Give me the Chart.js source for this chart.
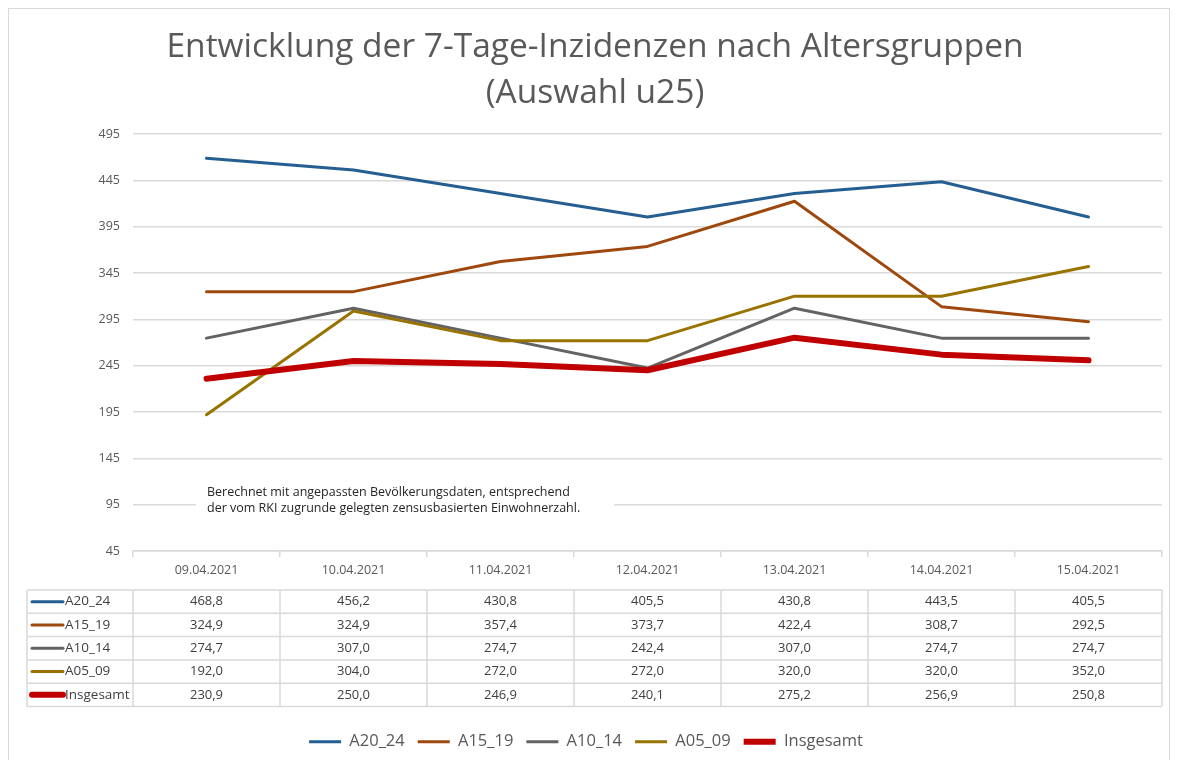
<!DOCTYPE html>
<html>
<head>
<meta charset="utf-8">
<script src="https://cdn.jsdelivr.net/npm/chart.js@4"></script>
<style>
  html, body { margin: 0; padding: 0; background: #fff; }
  #wrap { width: 1178px; height: 760px; position: relative; }
</style>
</head>
<body>
<div id="wrap"><canvas id="chartLine"></canvas></div>
<script>
const labels = ["09.04.2021", "10.04.2021", "11.04.2021", "12.04.2021", "13.04.2021", "14.04.2021", "15.04.2021"];
const a20_24 = [468.8, 456.2, 430.8, 405.5, 430.8, 443.5, 405.5];
const a15_19 = [324.9, 324.9, 357.4, 373.7, 422.4, 308.7, 292.5];
const a10_14 = [274.7, 307.0, 274.7, 242.4, 307.0, 274.7, 274.7];
const a05_09 = [192.0, 304.0, 272.0, 272.0, 320.0, 320.0, 352.0];
const insgesamt = [230.9, 250.0, 246.9, 240.1, 275.2, 256.9, 250.8];

const FONT = "'Open Sans', 'Liberation Sans', sans-serif";
const GRID = "#d9d9d9";

const fmt = v => v.toFixed(1).replace(".", ",");

// Rahmen, Titel, Hinweistext und Datentabelle unter der x-Achse
const extras = {
  id: "extras",
  beforeDraw(chart) {
    const ctx = chart.ctx;
    ctx.save();
    ctx.fillStyle = "#fff";
    ctx.fillRect(0, 0, chart.width, chart.height);
    ctx.strokeStyle = GRID;
    ctx.lineWidth = 1;
    ctx.strokeRect(8.5, 8.5, 1161, 760);
    ctx.fillStyle = "#595959";
    ctx.font = "33.5px " + FONT;
    ctx.textAlign = "center";
    ctx.textBaseline = "middle";
    ctx.fillText("Entwicklung der 7-Tage-Inzidenzen nach Altersgruppen", 595, 47);
    ctx.fillText("(Auswahl u25)", 595, 93);
    ctx.restore();
  },
  afterDraw(chart) {
    const ctx = chart.ctx;
    const x = chart.scales.x;
    const area = chart.chartArea;
    ctx.save();

    // Hinweis
    ctx.fillStyle = "#fff";
    ctx.fillRect(196, 480, 418, 38);
    ctx.fillStyle = "#262626";
    ctx.font = "12.5px " + FONT;
    ctx.textAlign = "left";
    ctx.textBaseline = "middle";
    ctx.fillText("Berechnet mit angepassten Bevölkerungsdaten, entsprechend", 207, 492);
    ctx.fillText("der vom RKI zugrunde gelegten zensusbasierten Einwohnerzahl.", 207, 508);

    // Tabelle
    const step = x.getPixelForValue(1) - x.getPixelForValue(0);
    const top = area.bottom + 39;
    const rowH = 23.3;
    const left = 27;
    const right = area.right;
    const ds = chart.data.datasets;
    ctx.strokeStyle = GRID;
    ctx.lineWidth = 1.5;
    ctx.beginPath();
    for (let r = 0; r <= ds.length; r++) {
      ctx.moveTo(left, top + r * rowH);
      ctx.lineTo(right, top + r * rowH);
    }
    ctx.moveTo(left, top);
    ctx.lineTo(left, top + ds.length * rowH);
    for (let c = 0; c <= labels.length; c++) {
      const cx = x.getPixelForValue(0) - step / 2 + c * step;
      ctx.moveTo(cx, top);
      ctx.lineTo(cx, top + ds.length * rowH);
    }
    ctx.stroke();

    ds.forEach((d, r) => {
      const cy = top + r * rowH + rowH / 2;
      ctx.strokeStyle = d.borderColor;
      ctx.lineWidth = d.borderWidth;
      ctx.lineCap = "round";
      ctx.beginPath();
      ctx.moveTo(32, cy);
      ctx.lineTo(63, cy);
      ctx.stroke();
      ctx.fillStyle = "#404040";
      ctx.font = "13.5px " + FONT;
      ctx.textAlign = "left";
      ctx.fillText(d.label, 65, cy);
      ctx.textAlign = "center";
      ctx.font = "13px " + FONT;
      d.data.forEach((v, i) => {
        ctx.fillText(fmt(v), x.getPixelForValue(i), cy);
      });
    });
    ctx.restore();
  }
};

const ctxLine = document.querySelector("#chartLine");

new Chart(ctxLine, {
  type: "line",
  data: {
    labels: labels,
    datasets: [
      { label: "A20_24", data: a20_24, borderColor: "#255e91", backgroundColor: "#255e91", borderWidth: 3, order: 5 },
      { label: "A15_19", data: a15_19, borderColor: "#9e480e", backgroundColor: "#9e480e", borderWidth: 3, order: 4 },
      { label: "A10_14", data: a10_14, borderColor: "#636363", backgroundColor: "#636363", borderWidth: 3, order: 3 },
      { label: "A05_09", data: a05_09, borderColor: "#997300", backgroundColor: "#997300", borderWidth: 3, order: 2 },
      { label: "Insgesamt", data: insgesamt, borderColor: "#c00000", backgroundColor: "#c00000", borderWidth: 6, order: 1 }
    ]
  },
  options: {
    responsive: true,
    maintainAspectRatio: false,
    animation: false,
    elements: {
      point: { radius: 0, hoverRadius: 0 },
      line: { tension: 0, borderCapStyle: "round", borderJoinStyle: "round" }
    },
    layout: { padding: { top: 134, left: 10, right: 16, bottom: 0 } },
    plugins: {
      title: { display: false },
      tooltip: { enabled: false },
      legend: {
        position: "bottom",
        reverse: true,
        labels: {
          usePointStyle: true,
          pointStyle: "line",
          pointStyleWidth: 32,
          padding: 13,
          color: "#595959",
          font: { family: FONT, size: 16.5 }
        }
      }
    },
    scales: {
      x: {
        offset: true,
        grid: { offset: true, drawOnChartArea: false, tickLength: 6, color: GRID, lineWidth: 1.5 },
        border: { color: GRID, width: 1.5 },
        ticks: { color: "#595959", padding: 6, maxRotation: 0, font: { family: FONT, size: 12.5 } },
        afterFit: s => { s.height = 169.5; }
      },
      y: {
        min: 45,
        max: 495,
        border: { display: false },
        grid: { color: GRID, lineWidth: 1.5, drawTicks: false },
        ticks: { stepSize: 50, color: "#595959", padding: 13, font: { family: FONT, size: 12.5 } },
        afterFit: s => { s.width = 123; }
      }
    }
  },
  plugins: [extras]
});
</script>
</body>
</html>
